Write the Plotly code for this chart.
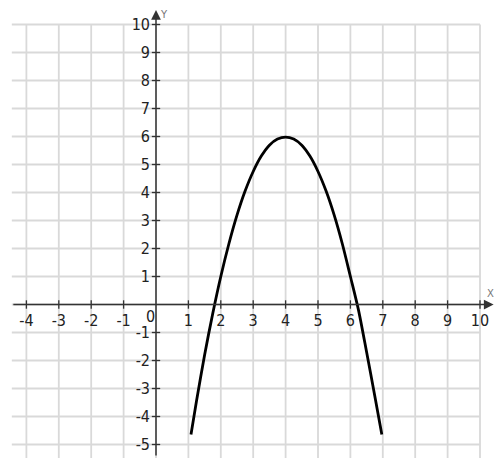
import plotly.graph_objects as go

# Curve points
curve_x = [1.08, 1.25, 1.5, 1.75, 2.0, 2.25, 2.5, 2.75, 3.0, 3.25, 3.5, 3.75, 4.0,
           4.25, 4.5, 4.75, 5.0, 5.25, 5.5, 5.75, 6.0, 6.25, 6.5, 6.75, 6.97]
curve_y = [-4.64, -3.45, -1.8, -0.33, 1.0, 2.17, 3.19, 4.05, 4.75, 5.3, 5.69, 5.91, 5.98,
           5.91, 5.69, 5.3, 4.75, 4.05, 3.19, 2.17, 1.0, -0.2, -1.7, -3.25, -4.64]

# Tick labels
x_ticks = [-4, -3, -2, -1, 1, 2, 3, 4, 5, 6, 7, 8, 9, 10]
y_ticks = [-5, -4, -3, -2, -1, 1, 2, 3, 4, 5, 6, 7, 8, 9, 10]
grid_x = list(range(-4, 11))
grid_y = list(range(-5, 11))

# the page puts the figure 8px in from the top-left corner
W, H = 496, 453
X0_PX, Y0_PX = 148, 296.5   # pixel position of the origin inside the figure
PX_X, PX_Y = 32.4, 28.0     # pixels per unit

x_range = [-X0_PX / PX_X, (W - X0_PX) / PX_X]
y_range = [-(H - Y0_PX) / PX_Y, Y0_PX / PX_Y]

font = dict(family="Liberation Sans Narrow, DejaVu Sans Condensed, Arial", size=16, color="#222222")
small_font = dict(family="DejaVu Sans", size=10, color="#777777")
grid_color = "#d9d9d9"
axis_color = "#333333"

fig = go.Figure()

# Tick crosses on the axes
fig.add_trace(go.Scatter(
    x=x_ticks, y=[0] * len(x_ticks), mode="markers", hoverinfo="skip",
    marker=dict(symbol="line-ns-open", size=6, color=axis_color, line=dict(width=1.3, color=axis_color)),
))
fig.add_trace(go.Scatter(
    x=[0] * len(y_ticks), y=y_ticks, mode="markers", hoverinfo="skip",
    marker=dict(symbol="line-ew-open", size=6, color=axis_color, line=dict(width=1.3, color=axis_color)),
))

# The parabola
fig.add_trace(go.Scatter(
    x=curve_x, y=curve_y, mode="lines", hoverinfo="skip",
    line=dict(color="#000000", width=2.8, shape="spline", smoothing=0.8),
))

# Grid
shapes = []
for gx in grid_x:
    shapes.append(dict(type="line", xref="x", yref="y", x0=gx, x1=gx, y0=-5.48, y1=10,
                       line=dict(color=grid_color, width=1.8), layer="below"))
for gy in grid_y:
    shapes.append(dict(type="line", xref="x", yref="y", x0=-4.45, x1=10, y0=gy, y1=gy,
                       line=dict(color=grid_color, width=1.8), layer="below"))

# Axes with arrow heads
annotations = [
    dict(x=10.42, y=0, ax=-4.45, ay=0, xref="x", yref="y", axref="x", ayref="y",
         text="", showarrow=True, arrowhead=2, arrowsize=1.3, arrowwidth=1.5, arrowcolor=axis_color),
    dict(x=0, y=10.52, ax=0, ay=-5.45, xref="x", yref="y", axref="x", ayref="y",
         text="", showarrow=True, arrowhead=2, arrowsize=1.3, arrowwidth=1.5, arrowcolor=axis_color),
    dict(x=-0.18, y=-0.42, xref="x", yref="y", text="0", showarrow=False, font=font),
    dict(x=10.31, y=0.39, xref="x", yref="y", text="X", showarrow=False, font=small_font),
    dict(x=0.24, y=10.36, xref="x", yref="y", text="Y", showarrow=False, font=small_font),
]

fig.update_layout(
    width=W, height=H,
    margin=dict(l=0, r=0, t=0, b=0, pad=0),
    paper_bgcolor="white", plot_bgcolor="white",
    showlegend=False,
    shapes=shapes,
    annotations=annotations,
    font=font,
    xaxis=dict(
        range=x_range, anchor="free", position=(H - Y0_PX) / H, automargin=False,
        tickvals=x_ticks, ticktext=[str(v) for v in x_ticks], ticklabelstandoff=4,
        ticks="", showgrid=False, zeroline=False, showline=False,
        tickfont=font, fixedrange=True,
    ),
    yaxis=dict(
        range=y_range, anchor="free", position=X0_PX / W, automargin=False,
        tickvals=y_ticks, ticktext=[str(v) for v in y_ticks], ticklabelstandoff=6,
        ticks="", showgrid=False, zeroline=False, showline=False,
        tickfont=font, fixedrange=True,
    ),
)

fig.write_html("out.html")
